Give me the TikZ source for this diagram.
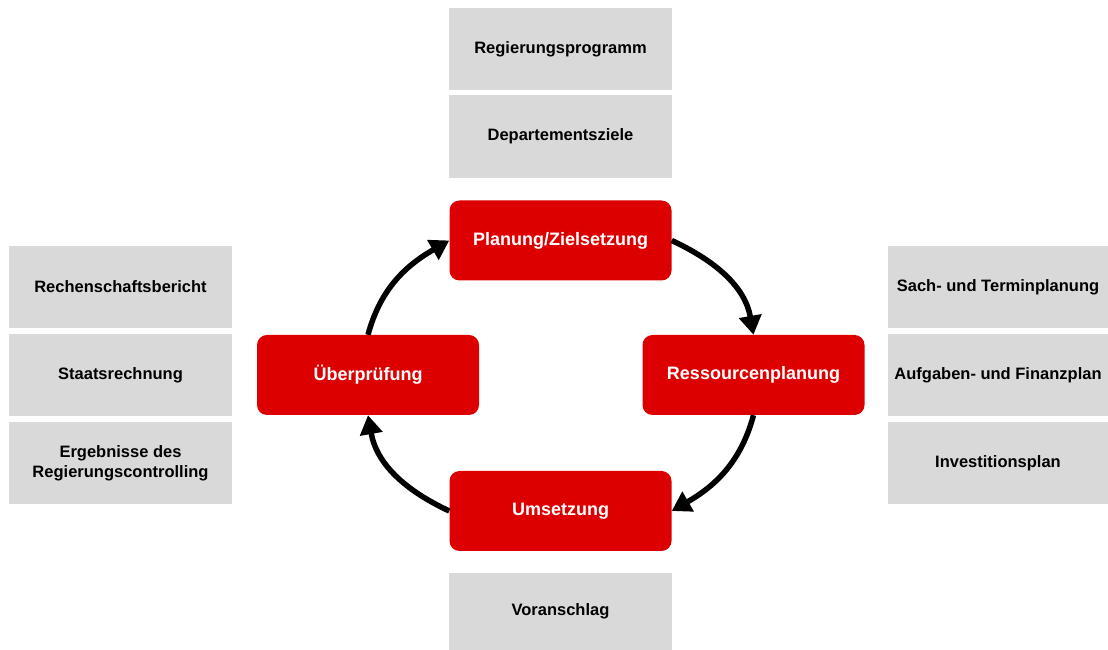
\documentclass[tikz,border=0pt]{standalone}
\usepackage{fontspec}
\setmainfont{Liberation Sans}
\usetikzlibrary{arrows.meta}
\definecolor{zyklusrot}{RGB}{221,0,0}
\definecolor{kastengrau}{RGB}{217,217,217}

\begin{document}
\begin{tikzpicture}[x=1pt, y=1pt,
	phase/.style={fill=zyklusrot, rounded corners=10pt, minimum width=222pt, minimum height=80pt,
		inner sep=0pt, text=white, font=\fontsize{18}{22}\selectfont\bfseries},
	dokument/.style={fill=kastengrau, minimum width=223pt, minimum height=82pt, inner sep=0pt,
		align=center, font=\fontsize{16.5}{20}\selectfont\bfseries},
	kreislauf/.style={line width=5.5pt, -{Triangle[length=19pt, width=22pt]}}]
	\useasboundingbox (0, 0) rectangle (1108, 650);
	\node [phase] (plan) at (560.5, 409.5) {Planung/Zielsetzung};
	\node [phase] (ress) at (753.5, 275) {Ressourcenplanung};
	\node [phase] (ums) at (560.5, 139) {Umsetzung};
	\node [phase] (ueb) at (368, 275) {Überprüfung};
	\node [dokument] (reg) at (560.5, 601) {Regierungsprogramm};
	\node [dokument, minimum height=83pt] (dep) at (560.5, 513.5) {Departementsziele};
	\node [dokument, minimum height=77pt] (vor) at (560.5, 38.5) {Voranschlag};
	\node [dokument] (rech) at (120.5, 363) {Rechenschaftsbericht};
	\node [dokument] (staat) at (120.5, 275) {Staatsrechnung};
	\node [dokument] (erg) at (120.5, 187) {Ergebnisse des\\Regierungscontrolling};
	\node [dokument, minimum width=220pt] (sach) at (998, 363) {Sach- und Terminplanung};
	\node [dokument, minimum width=220pt] (aufg) at (998, 275) {Aufgaben- und Finanzplan};
	\node [dokument, minimum width=220pt] (inv) at (998, 187) {Investitionsplan};
	\draw [kreislauf] (plan.east) to [out=-25, in=100] (ress.north);
	\draw [kreislauf] (ress.south) to [out=-105, in=30] (ums.east);
	\draw [kreislauf] (ums.west) to [out=155, in=-80] (ueb.south);
	\draw [kreislauf] (ueb.north) to [out=75, in=-150] (plan.west);
\end{tikzpicture}
\end{document}
